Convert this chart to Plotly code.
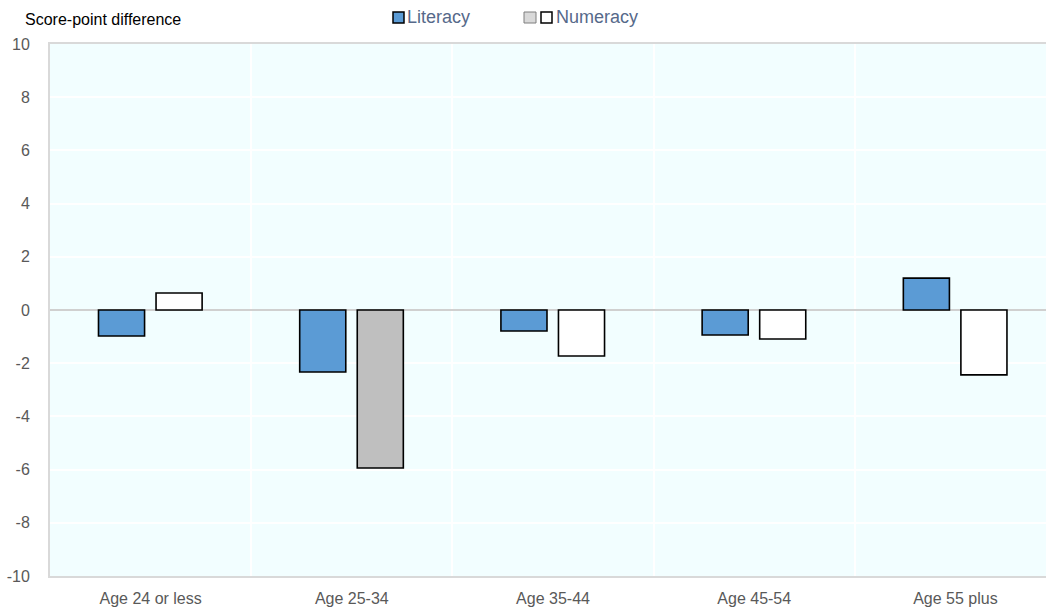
import plotly.graph_objects as go

categories = ["Age 24 or less", "Age 25-34", "Age 35-44", "Age 45-54", "Age 55 plus"]
literacy = [-0.98, -2.33, -0.79, -0.94, 1.2]
numeracy = [0.64, -5.94, -1.73, -1.09, -2.44]
numeracy_significant = [False, True, False, False, False]
yticks = list(range(-10, 11, 2))
yticklabels = [str(v) for v in yticks]

BLUE = "#5B9BD5"
GREY = "#BFBFBF"
FONT = "Liberation Sans, Arial, sans-serif"

W, H = 1046, 610
L, R, T, B = 50, 0, 44, 34
PW, PH = W - L - R, H - T - B

def px(x):
    return (x - L) / PW

def py(y):
    return (H - B - y) / PH

fig = go.Figure()
fig.add_trace(go.Bar(
    x=categories, y=literacy, name="Literacy",
    marker=dict(color=BLUE, line=dict(color="#000000", width=1.6)),
    offset=-0.259, width=0.229, showlegend=False,
))
fig.add_trace(go.Bar(
    x=categories, y=numeracy, name="Numeracy",
    marker=dict(color=[GREY if s else "#FFFFFF" for s in numeracy_significant],
                line=dict(color="#000000", width=1.6)),
    offset=0.027, width=0.229, showlegend=False,
))

shapes = [
    dict(type="rect", xref="paper", yref="paper", x0=px(393), x1=px(404), y0=py(23), y1=py(12),
         fillcolor=BLUE, line=dict(color="#000000", width=1.5)),
    dict(type="rect", xref="paper", yref="paper", x0=px(524), x1=px(536), y0=py(23), y1=py(12),
         fillcolor="#D9D9D9", line=dict(color="#7F7F7F", width=1)),
    dict(type="rect", xref="paper", yref="paper", x0=px(541), x1=px(552), y0=py(23), y1=py(12),
         fillcolor="#FFFFFF", line=dict(color="#000000", width=1.5)),
]
annotations = [
    dict(text="Literacy", xref="paper", yref="paper", x=px(405), y=py(17), xanchor="left", yanchor="middle",
         showarrow=False, font=dict(family=FONT, size=18, color="#56698A")),
    dict(text="Numeracy", xref="paper", yref="paper", x=px(554), y=py(17), xanchor="left", yanchor="middle",
         showarrow=False, font=dict(family=FONT, size=18, color="#56698A")),
    dict(text="Score-point difference", xref="paper", yref="paper", x=px(23), y=py(20), xanchor="left",
         yanchor="middle", showarrow=False, font=dict(family=FONT, size=16, color="#000000")),
]

fig.update_layout(
    width=W, height=H, autosize=False,
    margin=dict(l=L, r=R, t=T, b=B, pad=0, autoexpand=False),
    paper_bgcolor="#FFFFFF", plot_bgcolor="#F2FEFF",
    barmode="overlay",
    shapes=shapes, annotations=annotations,
    font=dict(family=FONT, size=16, color="#595959"),
    showlegend=False,
)
# the reference's last category runs past the right edge of the picture
fig.update_xaxes(
    type="category", tickson="boundaries", showgrid=True, gridcolor="#FFFFFF", gridwidth=1.5,
    showline=True, linecolor="#D9D9D9", linewidth=2, mirror=True, ticks="",
    ticklabelstandoff=7, tickfont=dict(family=FONT, size=16, color="#595959"),
    range=[-0.5, 4.45], automargin=False,
)
fig.update_yaxes(
    range=[-10, 10], tickvals=yticks, ticktext=yticklabels, showgrid=True, gridcolor="#FFFFFF", gridwidth=1.5,
    showline=True, linecolor="#D9D9D9", linewidth=2, mirror=False, ticks="",
    zeroline=True, zerolinecolor="#D0D0D0", zerolinewidth=2,
    ticklabelstandoff=15, tickfont=dict(family=FONT, size=16, color="#595959"),
    automargin=False,
)

# remove the browser's default 8px page margin so the figure fills the window exactly
fig.write_html(
    "out.html",
    config={"responsive": False, "displayModeBar": False},
    post_script="document.body.style.margin='0';document.body.style.overflow='hidden';",
)
